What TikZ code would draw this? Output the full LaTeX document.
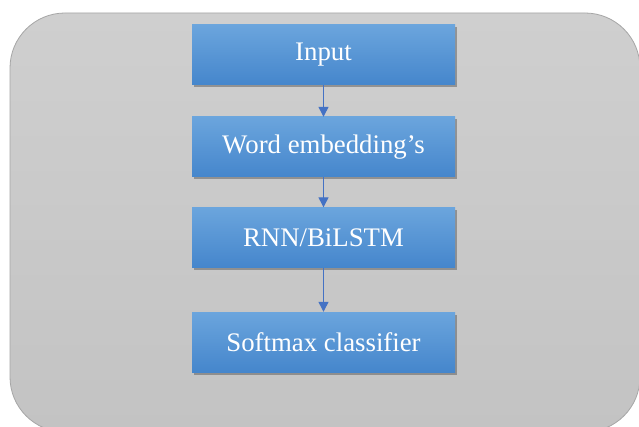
\documentclass[tikz,border=0pt]{standalone}
\usepackage{fontspec}
\setmainfont{Liberation Serif}
\usetikzlibrary{arrows.meta,shadows}
\definecolor{boxtop}{HTML}{6BA5DD}
\definecolor{boxbot}{HTML}{4586CC}
\definecolor{arrowblue}{HTML}{4472C4}
\definecolor{bgtop}{HTML}{CFCFCF}
\definecolor{bgbot}{HTML}{C3C3C3}
\definecolor{bgline}{HTML}{A6A6A6}
\tikzset{
  stagebox/.style={rectangle, minimum width=263pt, minimum height=60pt, inner sep=0pt,
    top color=boxtop, bottom color=boxbot, draw=none,
    text=white, font=\fontsize{26.8}{30}\selectfont,
    drop shadow={shadow xshift=2pt, shadow yshift=-2.5pt, opacity=0.45, fill=black!70}},
  flow/.style={draw=arrowblue, line width=1.3pt, -{Triangle[width=10pt,length=10pt]}},
}
\begin{document}
\begin{tikzpicture}[x=1pt,y=-1pt]
\useasboundingbox (0,0) rectangle (639,427);
\begin{scope}
\clip (0,0) rectangle (639,427);
\fill[white] (0,0) rectangle (639,427);
\draw[bgline, line width=0.8pt, top color=bgtop, bottom color=bgbot, rounded corners=55pt]
  (10,13) rectangle (640,432);
\end{scope}
\node[stagebox] (in) at (323.5,55) {Input};
\node[stagebox] (we) at (323.5,147) {Word embedding’s};
\node[stagebox] (rnn) at (323.5,237.5) {RNN/BiLSTM};
\node[stagebox] (sm) at (323.5,342) {Softmax classifier};
\draw[flow] (in.south) -- (we.north);
\draw[flow] (we.south) -- (rnn.north);
\draw[flow] (rnn.south) -- (sm.north);
\end{tikzpicture}
\end{document}
